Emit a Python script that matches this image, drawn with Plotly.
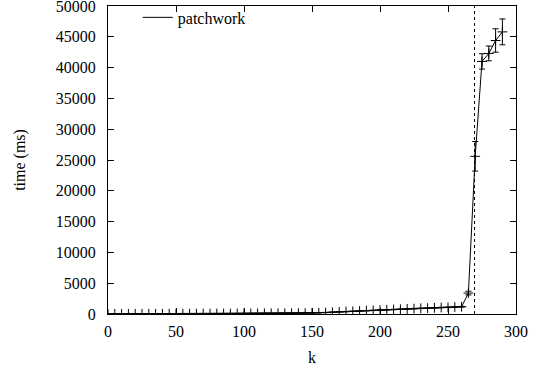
import plotly.graph_objects as go

k_values = list(range(0, 295, 5))
time_ms = [10, 15, 20, 25, 30, 30, 35, 40, 40, 45,
           50, 50, 55, 60, 60, 65, 70, 75, 80, 85,
           90, 95, 100, 105, 110, 115, 120, 130, 140, 150,
           170, 200, 240, 290, 340, 390, 440, 490, 540, 590,
           640, 690, 730, 780, 830, 870, 920, 960, 1000, 1050,
           1090, 1130, 1180, 3400, 25600, 41000, 42300, 44400, 45800]
time_err = [5, 5, 5, 5, 5, 5, 5, 5, 5, 5,
            5, 5, 5, 5, 5, 5, 5, 5, 5, 5,
            10, 10, 10, 10, 10, 10, 10, 10, 10, 10,
            15, 15, 20, 20, 20, 25, 25, 25, 30, 30,
            30, 35, 35, 35, 40, 40, 40, 45, 45, 50,
            50, 50, 60, 300, 2400, 1250, 1200, 1900, 2100]
threshold_k = 269.5

font_family = "Liberation Serif"

fig = go.Figure()
fig.add_trace(go.Scatter(
    x=k_values, y=time_ms,
    mode="lines+markers",
    line=dict(color="black", width=1),
    marker=dict(symbol="cross-thin-open", size=7, color="black",
                line=dict(color="black", width=1)),
    error_y=dict(type="data", array=time_err, visible=True,
                 color="black", thickness=1, width=3),
    showlegend=False,
))
fig.add_trace(go.Scatter(
    x=[None], y=[None], mode="lines", name="patchwork",
    line=dict(color="black", width=1),
))

fig.add_shape(type="line", xref="x", yref="paper",
              x0=threshold_k, x1=threshold_k, y0=0, y1=1,
              line=dict(color="black", width=1, dash="dot"))

axis_common = dict(
    showline=True, linecolor="black", linewidth=1, mirror="ticks",
    ticks="inside", ticklen=6, tickcolor="black", tickwidth=1,
    showgrid=False, zeroline=False, tickformat="d",
    ticklabeloverflow="allow", automargin=False,
    tickfont=dict(family=font_family, size=16, color="black"),
)

fig.update_layout(
    width=537, height=372,
    margin=dict(l=108, r=21, t=6, b=58, autoexpand=False),
    paper_bgcolor="white", plot_bgcolor="white",
    font=dict(family=font_family, size=16, color="black"),
    xaxis=dict(range=[0, 300], dtick=50, tick0=0,
               title=dict(text="k", standoff=12,
                          font=dict(family=font_family, size=16)),
               ticklabelstandoff=3,
               **axis_common),
    yaxis=dict(range=[0, 50000], dtick=5000, tick0=0,
               title=dict(text="time (ms)", standoff=26,
                          font=dict(family=font_family, size=16)),
               ticklabelstandoff=8,
               **axis_common),
    legend=dict(x=0.073, y=1.018, xanchor="left", yanchor="top",
                bgcolor="rgba(0,0,0,0)", borderwidth=0,
                font=dict(family=font_family, size=16)),
)

fig.write_html("out.html")
